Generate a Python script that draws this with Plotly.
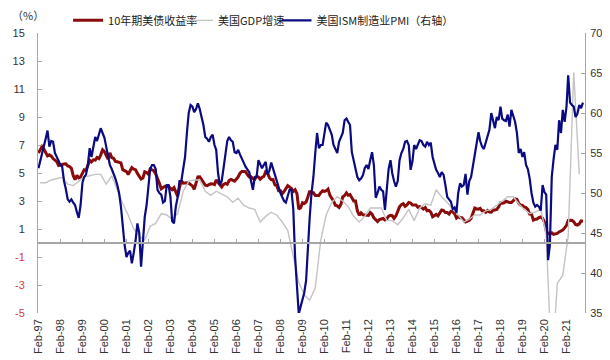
import pandas as pd
import plotly.graph_objects as go

# ---------------- data ----------------
# 10-year US Treasury yield (%), monthly, Feb 1997 - Nov 2021
yield_1997 = [6.42, 6.69, 6.89, 6.71, 6.49, 6.22, 6.30, 6.21, 6.03, 5.88, 5.81]
yield_1998 = [5.54, 5.57, 5.65, 5.64, 5.65, 5.50, 5.46, 5.34, 4.81, 4.53, 4.83, 4.65]
yield_1999 = [4.72, 5.00, 5.23, 5.18, 5.54, 5.90, 5.79, 5.94, 5.92, 6.11, 6.03, 6.28]
yield_2000 = [6.66, 6.52, 6.26, 5.99, 6.44, 6.10, 6.05, 5.83, 5.80, 5.74, 5.72, 5.24]
yield_2001 = [5.16, 5.10, 4.89, 5.14, 5.39, 5.28, 5.24, 4.97, 4.73, 4.57, 4.65, 5.09]
yield_2002 = [5.04, 4.91, 5.28, 5.21, 5.16, 4.93, 4.65, 4.26, 3.87, 3.94, 4.05, 4.03]
yield_2003 = [4.05, 3.90, 3.81, 3.96, 3.57, 3.33, 3.98, 4.45, 4.27, 4.29, 4.30, 4.27]
yield_2004 = [4.15, 4.08, 3.83, 4.35, 4.72, 4.73, 4.50, 4.28, 4.13, 4.10, 4.19, 4.23]
yield_2005 = [4.22, 4.17, 4.50, 4.34, 4.14, 4.00, 4.18, 4.26, 4.20, 4.46, 4.54, 4.47]
yield_2006 = [4.42, 4.57, 4.72, 4.99, 5.11, 5.11, 5.09, 4.88, 4.72, 4.73, 4.60, 4.56]
yield_2007 = [4.76, 4.72, 4.56, 4.69, 4.75, 5.10, 5.00, 4.67, 4.52, 4.53, 4.15, 4.10]
yield_2008 = [3.74, 3.74, 3.51, 3.68, 3.88, 4.10, 4.01, 3.89, 3.69, 3.81, 3.53, 2.42]
yield_2009 = [2.52, 2.87, 2.82, 2.93, 3.29, 3.72, 3.56, 3.59, 3.40, 3.39, 3.40, 3.59]
yield_2010 = [3.73, 3.69, 3.73, 3.85, 3.42, 3.20, 3.01, 2.70, 2.65, 2.54, 2.76, 3.29]
yield_2011 = [3.39, 3.58, 3.41, 3.46, 3.17, 3.00, 3.00, 2.30, 1.98, 2.15, 2.01, 1.98]
yield_2012 = [1.97, 1.97, 2.17, 2.05, 1.80, 1.62, 1.53, 1.68, 1.72, 1.75, 1.65, 1.72]
yield_2013 = [1.91, 1.98, 1.96, 1.76, 1.93, 2.30, 2.58, 2.74, 2.81, 2.62, 2.72, 2.90]
yield_2014 = [2.86, 2.71, 2.72, 2.71, 2.56, 2.60, 2.54, 2.42, 2.53, 2.30, 2.33, 2.21]
yield_2015 = [1.88, 1.98, 2.04, 1.94, 2.20, 2.36, 2.32, 2.17, 2.17, 2.07, 2.26, 2.24]
yield_2016 = [2.09, 1.78, 1.89, 1.81, 1.81, 1.64, 1.50, 1.56, 1.63, 1.76, 2.14, 2.49]
yield_2017 = [2.43, 2.42, 2.48, 2.30, 2.30, 2.19, 2.32, 2.21, 2.20, 2.36, 2.35, 2.40]
yield_2018 = [2.58, 2.86, 2.84, 2.87, 2.98, 2.91, 2.89, 2.89, 3.00, 3.15, 3.12, 2.83]
yield_2019 = [2.71, 2.68, 2.57, 2.53, 2.40, 2.07, 2.06, 1.63, 1.70, 1.71, 1.81, 1.86]
yield_2020 = [1.76, 1.50, 0.87, 0.66, 0.67, 0.73, 0.62, 0.65, 0.68, 0.79, 0.87, 0.93]
yield_2021 = [1.08, 1.26, 1.61, 1.64, 1.62, 1.52, 1.32, 1.28, 1.37, 1.58, 1.56]

# ISM manufacturing PMI, monthly, Feb 1997 - Nov 2021
pmi_1997 = [53.1, 53.9, 55.0, 56.0, 56.8, 57.8, 55.8, 56.5, 56.4, 55.0, 54.5]
pmi_1998 = [54.0, 53.5, 53.3, 51.5, 50.5, 49.2, 48.9, 49.2, 48.8, 48.5, 47.6, 46.9]
pmi_1999 = [48.5, 51.3, 52.0, 52.3, 53.5, 55.6, 54.5, 56.0, 57.0, 56.5, 57.5, 58.1]
pmi_2000 = [57.5, 56.9, 55.8, 54.5, 53.5, 53.0, 52.5, 51.8, 51.0, 50.0, 48.3, 45.5]
pmi_2001 = [43.5, 42.0, 42.5, 42.8, 41.2, 42.5, 44.0, 46.2, 45.0, 40.8, 44.5, 47.0]
pmi_2002 = [48.5, 50.8, 53.0, 53.5, 53.5, 53.0, 50.4, 50.0, 49.8, 48.8, 49.0, 51.0]
pmi_2003 = [51.0, 49.5, 46.5, 46.2, 48.3, 49.5, 51.5, 51.5, 53.0, 54.5, 57.5, 60.0]
pmi_2004 = [61.0, 60.8, 60.1, 60.5, 61.2, 60.5, 59.5, 58.5, 57.0, 56.8, 56.4, 57.0]
pmi_2005 = [57.3, 56.0, 55.4, 52.5, 51.0, 51.5, 53.1, 55.0, 56.5, 57.0, 56.6, 56.4]
pmi_2006 = [55.1, 55.0, 55.4, 54.8, 54.4, 53.8, 53.3, 53.0, 52.6, 51.5, 50.4, 52.0]
pmi_2007 = [52.0, 54.1, 53.5, 53.1, 53.5, 53.9, 52.3, 52.8, 53.8, 53.0, 52.5, 51.6]
pmi_2008 = [50.8, 50.0, 49.5, 49.0, 48.8, 49.5, 50.4, 50.4, 48.0, 42.0, 38.3, 34.9]
pmi_2009 = [35.8, 36.6, 37.5, 39.0, 43.5, 47.0, 50.0, 52.0, 55.0, 57.5, 55.6, 56.0]
pmi_2010 = [56.0, 57.5, 58.8, 58.5, 58.0, 57.3, 56.0, 55.4, 55.0, 56.4, 57.0, 57.5]
pmi_2011 = [59.1, 59.3, 58.9, 58.5, 55.1, 54.0, 52.9, 52.0, 51.6, 51.8, 52.2, 53.1]
pmi_2012 = [53.5, 53.0, 54.1, 55.1, 53.5, 49.4, 50.0, 50.8, 50.4, 50.2, 47.9, 50.5]
pmi_2013 = [53.0, 54.1, 52.5, 51.5, 50.8, 51.5, 54.1, 55.0, 55.5, 56.4, 56.5, 56.0]
pmi_2014 = [52.9, 54.0, 56.0, 55.5, 56.0, 56.6, 56.5, 56.0, 55.8, 56.4, 56.0, 56.3]
pmi_2015 = [54.5, 53.5, 52.9, 52.5, 52.0, 52.6, 52.3, 51.0, 49.5, 49.2, 48.9, 48.0]
pmi_2016 = [48.2, 47.5, 50.0, 51.2, 50.8, 51.0, 52.4, 49.8, 51.5, 52.0, 53.3, 54.5]
pmi_2017 = [56.0, 57.6, 56.5, 55.8, 55.5, 56.4, 57.0, 57.9, 60.0, 59.0, 58.1, 59.5]
pmi_2018 = [59.1, 60.8, 59.3, 59.1, 59.0, 59.8, 58.3, 60.4, 59.5, 58.9, 57.5, 55.0]
pmi_2019 = [55.5, 54.5, 55.1, 53.5, 53.0, 51.8, 50.0, 48.8, 48.3, 48.5, 48.3, 47.8]
pmi_2020 = [51.0, 50.1, 49.8, 41.6, 43.5, 52.0, 54.2, 56.0, 55.4, 59.1, 57.5, 60.4]
pmi_2021 = [58.9, 60.8, 64.7, 61.3, 61.0, 60.8, 59.5, 59.9, 61.0, 60.6, 61.3]

# US real GDP growth, YoY (%), quarterly (plotted at quarter-end month), Q1 1997 - Q3 2021
gdp_q = [
    4.3, 4.3, 4.5, 4.6,   4.7, 4.2, 4.1, 4.4,   4.7, 4.8, 4.9, 4.9,   4.2, 4.8, 3.8, 2.8,
    2.0, 1.0, 0.5, 0.2,   1.2, 1.4, 2.1, 2.0,   1.7, 2.1, 3.7, 4.4,   4.5, 4.5, 3.7, 3.4,
    3.7, 3.5, 3.3, 2.9,   3.2, 2.7, 2.5, 2.4,   1.5, 1.9, 2.2, 2.0,   1.5, 0.9, -1.0, -2.8,
    -3.7, -4.1, -3.2, 0.2, 2.0, 2.9, 3.3, 3.0,  2.6, 1.9, 1.5, 1.9,   2.5, 2.5, 2.5, 1.6,
    1.6, 1.3, 1.8, 2.4,   1.6, 2.5, 2.8, 2.7,   3.8, 3.3, 2.9, 2.4,   2.0, 1.5, 1.7, 2.0,
    2.0, 2.3, 2.4, 2.7,   3.0, 3.3, 3.3, 2.8,   2.4, 2.1, 2.2, 2.4,   0.6, -9.1, -2.9, -2.3,
    0.5, 12.2, 4.9,
]

tick_years = list(range(1997, 2022))
tick_labels = [f"Feb-{y % 100:02d}" for y in tick_years]

left_ticks = [-5, -3, -1, 1, 3, 5, 7, 9, 11, 13, 15]

legend_names = ["10年期美债收益率", "美国GDP增速", "美国ISM制造业PMI（右轴）"]

# ---------------- assemble ----------------
yield_vals = (yield_1997 + yield_1998 + yield_1999 + yield_2000 + yield_2001 + yield_2002 +
              yield_2003 + yield_2004 + yield_2005 + yield_2006 + yield_2007 + yield_2008 +
              yield_2009 + yield_2010 + yield_2011 + yield_2012 + yield_2013 + yield_2014 +
              yield_2015 + yield_2016 + yield_2017 + yield_2018 + yield_2019 + yield_2020 +
              yield_2021)
pmi_vals = (pmi_1997 + pmi_1998 + pmi_1999 + pmi_2000 + pmi_2001 + pmi_2002 + pmi_2003 +
            pmi_2004 + pmi_2005 + pmi_2006 + pmi_2007 + pmi_2008 + pmi_2009 + pmi_2010 +
            pmi_2011 + pmi_2012 + pmi_2013 + pmi_2014 + pmi_2015 + pmi_2016 + pmi_2017 +
            pmi_2018 + pmi_2019 + pmi_2020 + pmi_2021)

months = pd.date_range("1997-02-01", periods=len(yield_vals), freq="MS")
pmi_months = pd.date_range("1997-02-01", periods=len(pmi_vals), freq="MS")
gdp_months = pd.date_range("1997-03-01", periods=len(gdp_q), freq="3MS")
tick_dates = [f"{y}-02-01" for y in tick_years]

left_text = [f'<span style="color:#d93a3a">{v}</span>' if v < 0 else str(v) for v in left_ticks]

FONT = "Liberation Sans, Arial, sans-serif"
CJK = "Noto Sans CJK SC, Liberation Sans, sans-serif"

fig = go.Figure()
fig.add_trace(go.Scatter(x=months, y=yield_vals, name=legend_names[0], mode="lines",
                         line=dict(color="#8b0a0a", width=3), xaxis="x", yaxis="y",
                         legend="legend"))
fig.add_trace(go.Scatter(x=gdp_months, y=gdp_q, name=legend_names[1], mode="lines",
                         line=dict(color="#c4c4c4", width=1.4), xaxis="x", yaxis="y",
                         legend="legend2"))
fig.add_trace(go.Scatter(x=pmi_months, y=pmi_vals, name=legend_names[2], mode="lines",
                         line=dict(color="#0a0a82", width=2.2), xaxis="x", yaxis="y2",
                         legend="legend3"))
# carrier for the label axis (no visible marks)
fig.add_trace(go.Scatter(x=[tick_dates[0]], y=[None], xaxis="x2", yaxis="y",
                         showlegend=False, hoverinfo="skip", mode="lines"))

leg_common = dict(orientation="h", xanchor="left", y=1.097, yanchor="top", yref="paper",
                  font=dict(family=CJK, size=11, color="#222222"),
                  bgcolor="rgba(0,0,0,0)", itemwidth=30, borderwidth=0)

xrange = ["1997-01-24", "2021-12-05"]
fig.update_layout(
    width=602, height=352,
    margin=dict(l=30, r=25, t=25, b=47, autoexpand=False),
    paper_bgcolor="white", plot_bgcolor="white",
    font=dict(family=FONT, size=11, color="#333333"),
    showlegend=True,
    legend=dict(x=0.055, **leg_common),
    legend2=dict(x=0.256, **leg_common),
    legend3=dict(x=0.436, **leg_common),
    # zero line axis with small year ticks
    xaxis=dict(type="date", range=xrange, anchor="free", position=0.25,
               showline=True, linecolor="#a6a6a6", linewidth=1.6,
               ticks="inside", ticklen=3, tickcolor="#a6a6a6", tickwidth=1,
               tickvals=tick_dates, showticklabels=False, showgrid=False, zeroline=False,
               automargin=False),
    # label axis at the bottom
    xaxis2=dict(type="date", matches="x", overlaying="x", anchor="y", side="bottom",
                showline=False, ticks="", tickvals=tick_dates, ticktext=tick_labels,
                tickangle=-90, tickfont=dict(family=FONT, size=11, color="#333333"),
                showgrid=False, zeroline=False, automargin=False, ticklabelstandoff=3),
    yaxis=dict(range=[-5, 15], tickvals=left_ticks, ticktext=left_text,
               showline=True, linecolor="#a6a6a6", linewidth=1,
               ticks="inside", ticklen=4, tickcolor="#a6a6a6",
               showgrid=False, zeroline=False, ticklabelstandoff=10, automargin=False,
               tickfont=dict(family=FONT, size=11, color="#333333")),
    yaxis2=dict(range=[35, 70], dtick=5, tick0=35, overlaying="y", side="right", anchor="x",
                showline=True, linecolor="#a6a6a6", linewidth=1,
                ticks="inside", ticklen=4, tickcolor="#a6a6a6",
                showgrid=False, zeroline=False, ticklabelstandoff=2, automargin=False,
                tickfont=dict(family=FONT, size=11, color="#333333")),
    annotations=[dict(text="（%）", xref="paper", yref="paper", x=-0.018, y=1.064,
                      xanchor="center", yanchor="middle", showarrow=False,
                      font=dict(family=CJK, size=11, color="#333333"))],
)

fig.write_html("out.html")
